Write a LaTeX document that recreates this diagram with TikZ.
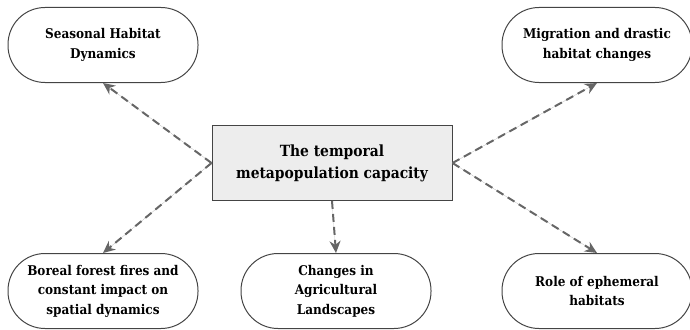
\documentclass[tikz,border=0pt]{standalone}
\usepackage{fontspec}
\setmainfont{DejaVu Serif Condensed}
\usetikzlibrary{positioning,calc,arrows.meta}
\definecolor{linegray}{HTML}{666666}
\definecolor{boxgray}{HTML}{EDEDED}
\definecolor{edgegray}{HTML}{444444}

\begin{document}
\begin{tikzpicture}[x=1pt,y=1pt,
  pill/.style={draw=edgegray,line width=1pt,rounded corners=37pt,minimum width=190pt,minimum height=75pt,font=\bfseries\fontsize{13.4}{19.5}\selectfont},
  hub/.style={draw=edgegray,line width=1pt,fill=boxgray,minimum width=240pt,minimum height=75pt,font=\bfseries\fontsize{15.4}{22}\selectfont},
  link/.style={-{Stealth[length=12pt,width=11pt]},dash pattern=on 8pt off 5pt,line width=2pt,draw=linegray,fill=linegray}]
\useasboundingbox (0,0) rectangle (690,-329);
\node[hub] (0) at (332,-163) {\begin{minipage}{230pt}\centering The temporal\\ metapopulation capacity\end{minipage}};
\node[pill] (1) at (103,-45) {\begin{minipage}{180pt}\centering Seasonal Habitat\\ Dynamics\end{minipage}};
\node[pill] (2) at (597,-45) {\begin{minipage}{180pt}\centering Migration and drastic\\ habitat changes\end{minipage}};
\node[pill] (3) at (103,-291) {\begin{minipage}{180pt}\centering Boreal forest fires and\\ constant impact on\\ spatial dynamics\end{minipage}};
\node[pill] (4) at (336,-291) {\begin{minipage}{180pt}\centering Changes in\\ Agricultural\\ Landscapes\end{minipage}};
\node[pill] (5) at (597,-291) {\begin{minipage}{180pt}\centering Role of ephemeral\\ habitats\end{minipage}};
\draw[link](0.west)to(1.south);
\draw[link](0.east)to(2.south);
\draw[link](0.west)to(3.north);
\draw[link](0.south)to(4.north);
\draw[link](0.east)to(5.north);
\end{tikzpicture}
\end{document}
